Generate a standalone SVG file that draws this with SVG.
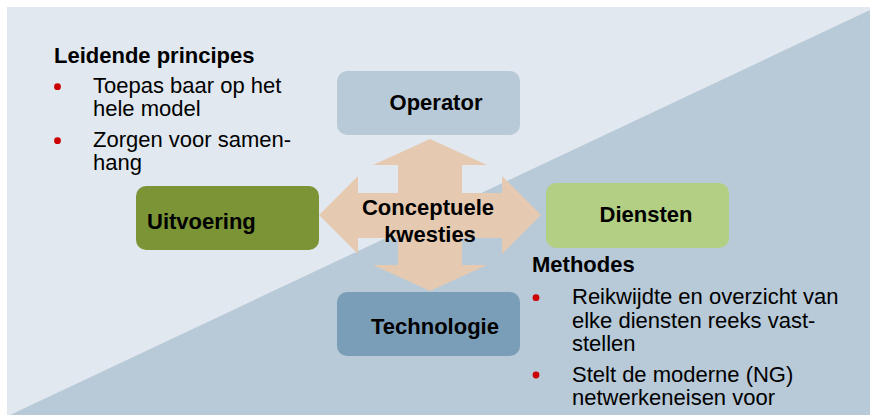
<svg xmlns="http://www.w3.org/2000/svg" width="870" height="415" viewBox="0 0 870 415">
<style>
.b{font-family:"Liberation Sans",Arial,sans-serif;font-weight:bold;font-size:22px;fill:#000}
.r{font-family:"Liberation Sans",Arial,sans-serif;font-size:22px;fill:#000}
.m{text-anchor:middle}
.dot{fill:#cc0000}
</style>
<rect x="0" y="0" width="870" height="415" fill="#ffffff"/>
<rect x="7" y="7" width="863" height="408" fill="#e1e8ef"/>
<polygon points="10,415 870,10 870,415" fill="#b8c9d7"/>
<g id="connectors">
<polygon points="430,139 487,165 462,165 462,193 502,193 502,176 541,215 502,254 502,238 462,238 462,265 487,265 430,291 373,265 398,265 398,238 358,238 358,254 319,215 358,176 358,193 398,193 398,165 373,165" fill="#e5cab1"/>
</g>
<g id="operator">
<rect x="337" y="71" width="183" height="64" rx="10" fill="#b8cad8"/>
<text class="b m" x="436" y="110">Operator</text>
</g>
<g id="uitvoering">
<rect x="136" y="186" width="183" height="64" rx="10" fill="#7b9436"/>
<text class="b" x="147" y="229">Uitvoering</text>
</g>
<g id="diensten">
<rect x="546" y="183" width="183" height="65" rx="10" fill="#b3cf84"/>
<text class="b m" x="646" y="222">Diensten</text>
</g>
<g id="technologie">
<rect x="337" y="292" width="183" height="64" rx="10" fill="#7a9eb8"/>
<text class="b m" x="435" y="334">Technologie</text>
</g>
<g id="concept">
<text class="b m" x="428" y="215">Conceptuele</text>
<text class="b m" x="430" y="242">kwesties</text>
</g>
<g id="leidende">
<text class="b" x="54" y="63">Leidende principes</text>
<circle class="dot" cx="57.5" cy="86.7" r="3.4"/>
<text class="r" x="93" y="93">Toepas baar op het</text>
<text class="r" x="93" y="116">hele model</text>
<circle class="dot" cx="57.5" cy="140.7" r="3.4"/>
<text class="r" x="93" y="147">Zorgen voor samen-</text>
<text class="r" x="93" y="170">hang</text>
</g>
<g id="methodes">
<text class="b" x="532" y="272">Methodes</text>
<circle class="dot" cx="536" cy="297.7" r="3.4"/>
<text class="r" x="572" y="304">Reikwijdte en overzicht van</text>
<text class="r" x="572" y="327.5">elke diensten reeks vast-</text>
<text class="r" x="572" y="351">stellen</text>
<circle class="dot" cx="536" cy="375" r="3.4"/>
<text class="r" x="572" y="382">Stelt de moderne (NG)</text>
<text class="r" x="572" y="405">netwerkeneisen voor</text>
</g>
</svg>
